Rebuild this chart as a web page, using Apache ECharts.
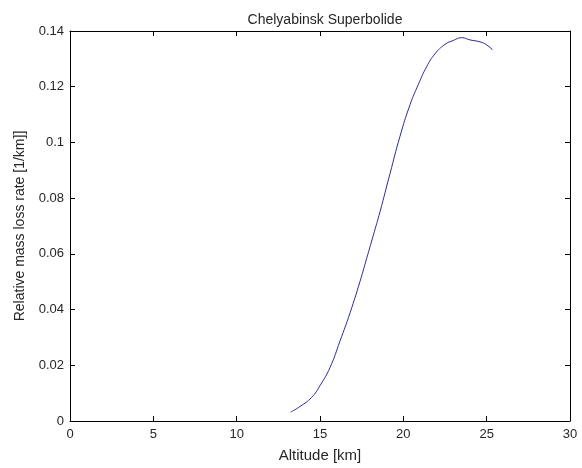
<!DOCTYPE html>
<html>
<head>
<meta charset="utf-8">
<title>Chelyabinsk Superbolide</title>
<script src="https://cdn.jsdelivr.net/npm/echarts@6/dist/echarts.min.js"></script>
<style>
  html, body { margin: 0; padding: 0; background: #fff; }
  #chart { width: 582px; height: 468px; }
</style>
</head>
<body>
<div id="chart"></div>
<script>
// values
const altitude = [13.24, 13.8, 14.5, 15.0, 15.6, 16.2, 16.8, 17.4, 17.8, 18.2, 18.6, 19.2, 19.8, 20.4, 20.9, 21.4, 21.9, 22.5, 23.0, 23.5, 24.0, 24.6, 25.0, 25.36]
const massLossRate = [0.0032, 0.0052, 0.0085, 0.0127, 0.0192, 0.0287, 0.0388, 0.0501, 0.0584, 0.0667, 0.0751, 0.0888, 0.1022, 0.1135, 0.1208, 0.1272, 0.1318, 0.1352, 0.1366, 0.1376, 0.1368, 0.1361, 0.1350, 0.1332]
const xTicks = [0, 5, 10, 15, 20, 25, 30]
const yTicks = [0, 0.02, 0.04, 0.06, 0.08, 0.1, 0.12, 0.14]

const font = 'Liberation Sans'
const textColor = '#262626'

const chart = echarts.init(document.getElementById('chart'))

// MATLAB style box: every side has a line and inward ticks
const boxAxis = {
  axisLine: { show: true, onZero: false, lineStyle: { color: '#000', width: 1 } },
  axisTick: { show: true, inside: true, length: 5, lineStyle: { color: '#000' } },
  splitLine: { show: false }
}

chart.setOption({
  animation: false,
  backgroundColor: '#fff',
  title: {
    text: 'Chelyabinsk Superbolide',
    left: 320,
    top: 8,
    textAlign: 'center',
    textStyle: { fontFamily: font, fontSize: 14, fontWeight: 'normal', color: textColor }
  },
  grid: { left: 70, right: 12, top: 31, bottom: 44 },
  xAxis: [
    {
      type: 'value',
      min: xTicks[0],
      max: xTicks[xTicks.length - 1],
      interval: 5,
      name: 'Altitude [km]',
      nameLocation: 'middle',
      nameGap: 27,
      nameTextStyle: { fontFamily: font, fontSize: 15, color: textColor },
      axisLabel: { fontFamily: font, fontSize: 13, color: textColor, margin: 7 },
      ...boxAxis
    },
    {
      type: 'value',
      position: 'top',
      min: xTicks[0],
      max: xTicks[xTicks.length - 1],
      interval: 5,
      axisLabel: { show: false },
      ...boxAxis
    }
  ],
  yAxis: [
    {
      type: 'value',
      min: yTicks[0],
      max: yTicks[yTicks.length - 1],
      interval: 0.02,
      name: 'Relative mass loss rate [1/km]]',
      nameLocation: 'middle',
      nameGap: 43,
      nameTextStyle: { fontFamily: font, fontSize: 14, color: textColor },
      axisLabel: {
        fontFamily: font, fontSize: 13, color: textColor, margin: 6,
        formatter: v => String(Math.round(v * 100) / 100)
      },
      ...boxAxis
    },
    {
      type: 'value',
      position: 'right',
      min: yTicks[0],
      max: yTicks[yTicks.length - 1],
      interval: 0.02,
      axisLabel: { show: false },
      ...boxAxis
    }
  ],
  series: [
    {
      type: 'line',
      data: altitude.map((a, i) => [a, massLossRate[i]]),
      smooth: true,
      showSymbol: false,
      lineStyle: { color: '#2b2b9c', width: 1 }
    }
  ]
})
</script>
</body>
</html>
